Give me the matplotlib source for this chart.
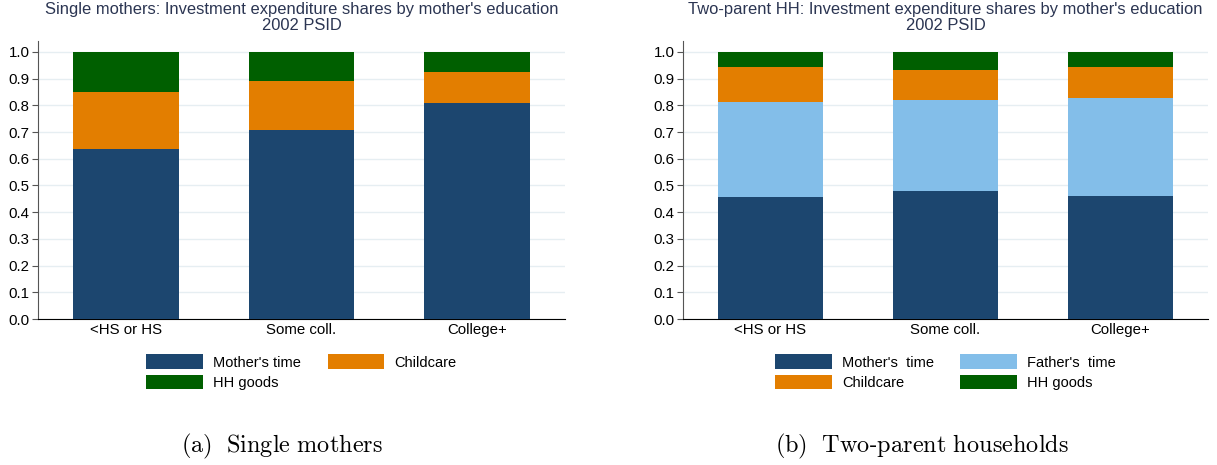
import matplotlib.pyplot as plt
import numpy as np

plt.rcParams['font.family'] = ['Liberation Sans', 'DejaVu Sans']
plt.rcParams['mathtext.fontset'] = 'cm'

categories = ['<HS or HS', 'Some coll.', 'College+']

# single mothers
sm_mother = [0.635, 0.708, 0.809]
sm_childcare = [0.214, 0.184, 0.117]
sm_goods = [0.151, 0.108, 0.074]

# two-parent households
tp_mother = [0.457, 0.478, 0.459]
tp_father = [0.356, 0.342, 0.369]
tp_childcare = [0.129, 0.112, 0.115]
tp_goods = [0.058, 0.068, 0.057]

c_mother = '#1c466f'
c_father = '#83bee9'
c_child = '#e37e00'
c_goods = '#005f00'
title_col = '#2b3552'

fig = plt.figure(figsize=(12.17, 4.65), dpi=100)
W, H = 1217, 465
ax1 = fig.add_axes([38 / W, (H - 319) / H, 527 / W, 278 / H])
ax2 = fig.add_axes([683 / W, (H - 319) / H, 525 / W, 278 / H])

x = np.arange(len(categories))
bw = 0.6


def stack(ax, series):
    bottom = np.zeros(len(categories))
    bars = {}
    for vals, col, lab in series:
        b = ax.bar(x, vals, bw, bottom=bottom, color=col, label=lab,
                   edgecolor='none', zorder=3)
        bars[lab] = b
        bottom = bottom + np.array(vals)
    return bars


def style(ax, title):
    ax.set_xlim(-0.5, 2.5)
    ax.set_ylim(0, 1.041)
    ax.set_yticks(np.arange(0, 1.01, 0.1))
    ax.set_yticklabels([f'{v:.1f}' for v in np.arange(0, 1.01, 0.1)])
    ax.set_xticks(x)
    ax.set_xticklabels(categories)
    ax.tick_params(axis='x', length=0, labelsize=10.8, pad=3)
    ax.tick_params(axis='y', length=4, labelsize=10.8, pad=2, color='#555555')
    ax.grid(axis='y', color='#e6eef2', linewidth=1.0, zorder=0)
    ax.spines['top'].set_visible(False)
    ax.spines['right'].set_visible(False)
    ax.spines['left'].set_color('#555555')
    ax.spines['bottom'].set_color('black')
    ax.set_title(title, fontsize=11.9, color=title_col, pad=8, linespacing=1.05)


b1 = stack(ax1, [(sm_mother, c_mother, "Mother's time"),
                 (sm_childcare, c_child, 'Childcare'),
                 (sm_goods, c_goods, 'HH goods')])
style(ax1, "Single mothers: Investment expenditure shares by mother's education\n2002 PSID")
ax1.legend([b1["Mother's time"], b1['HH goods'], b1['Childcare']],
           ["Mother's time", 'HH goods', 'Childcare'],
           ncol=2, loc='upper center', bbox_to_anchor=(0.5, -0.08),
           frameon=False, fontsize=10.5, handlelength=3.9, handleheight=1.15,
           columnspacing=1.8, labelspacing=0.35, handletextpad=0.7)

b2 = stack(ax2, [(tp_mother, c_mother, "Mother's  time"),
                 (tp_father, c_father, "Father's  time"),
                 (tp_childcare, c_child, 'Childcare'),
                 (tp_goods, c_goods, 'HH goods')])
style(ax2, "Two-parent HH: Investment expenditure shares by mother's education\n2002 PSID")
ax2.legend([b2["Mother's  time"], b2['Childcare'], b2["Father's  time"], b2['HH goods']],
           ["Mother's  time", 'Childcare', "Father's  time", 'HH goods'],
           ncol=2, loc='upper center', bbox_to_anchor=(0.5, -0.08),
           frameon=False, fontsize=10.5, handlelength=3.9, handleheight=1.15,
           columnspacing=1.8, labelspacing=0.35, handletextpad=0.7)

fig.text(282 / W, 1 - 446 / H, r'$\mathrm{(a)\ \ Single\ mothers}$', ha='center',
         va='center', fontsize=17.5)
fig.text(922 / W, 1 - 446 / H, r'$\mathrm{(b)\ \ Two}$-$\mathrm{parent\ households}$',
         ha='center', va='center', fontsize=17.5)

fig.savefig('out.png', dpi=100)
